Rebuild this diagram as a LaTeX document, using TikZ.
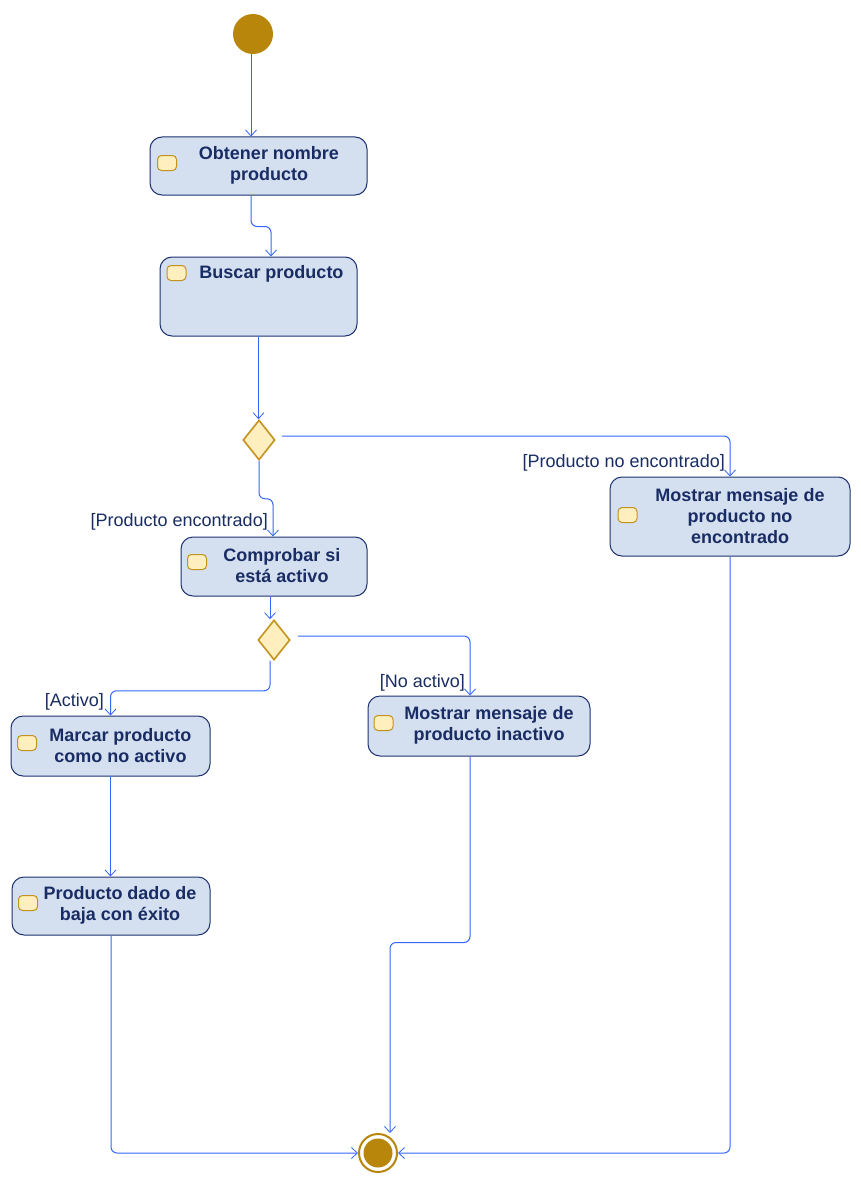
\documentclass[tikz,border=0pt]{standalone}
\usepackage{fontspec}
\setmainfont{Liberation Sans}
\usetikzlibrary{arrows.meta,shapes.geometric}
\definecolor{flowblue}{RGB}{51,102,255}
\definecolor{actfill}{RGB}{212,223,240}
\definecolor{actline}{RGB}{30,50,110}
\definecolor{inktext}{RGB}{25,45,100}
\definecolor{gold}{RGB}{184,134,11}
\definecolor{cream}{RGB}{255,239,190}
\definecolor{icongold}{RGB}{196,146,30}

\begin{document}
\begin{tikzpicture}[x=1pt,y=-1pt,
  act/.style={draw=actline, fill=actfill, line width=1pt, rounded corners=12pt, inner sep=0pt},
  acttext/.style={text=inktext, font=\fontsize{18}{21}\selectfont\bfseries, align=center, inner sep=0pt, yshift=-2pt},
  icon/.style={draw=icongold, fill=cream, line width=1pt, rounded corners=4pt, minimum width=19pt, minimum height=15pt, inner sep=0pt},
  decision/.style={diamond, draw=icongold, fill=cream, line width=1.6pt, minimum width=32pt, minimum height=40pt, inner sep=0pt},
  guard/.style={text=inktext, font=\fontsize{18}{21}\selectfont, inner sep=0pt, anchor=east, yshift=-2pt},
  flow/.style={draw=flowblue, line width=1pt, rounded corners=6pt, -{Straight Barb[length=6pt,width=11pt,line width=0.8pt]}},
]
\useasboundingbox[fill=white] (0,0) rectangle (861,1188);

% start and end
\node[circle, fill=gold, minimum size=40pt, inner sep=0pt] (s) at (253,34) {};
\node[circle, draw=gold, line width=2pt, fill=white, minimum size=38pt, inner sep=0pt] (e) at (378,1153) {};
\node[circle, fill=gold, minimum size=29pt, inner sep=0pt] (ei) at (e.center) {};

% actions
\node[act, minimum width=217pt, minimum height=58pt] (b1) at (258.5,166) {};
\node[acttext] (b1t) at (269,163.5) {Obtener nombre\\producto};
\node[icon] (b1i) at (167,163) {};

\node[act, minimum width=197pt, minimum height=79pt] (b2) at (258.5,296.5) {};
\node[acttext] (b2t) at (271.5,272) {Buscar producto};
\node[icon] (b2i) at (176.5,273) {};

\node[act, minimum width=240pt, minimum height=79pt] (b3) at (730,516.5) {};
\node[acttext] (b3t) at (740,514) {Mostrar mensaje de\\producto no\\encontrado};
\node[icon] (b3i) at (627.5,515) {};

\node[act, minimum width=186pt, minimum height=59pt] (b4) at (274,566.5) {};
\node[acttext] (b4t) at (282,563.5) {Comprobar si\\está activo};
\node[icon] (b4i) at (197,562) {};

\node[act, minimum width=199pt, minimum height=60pt] (b5) at (110.5,746) {};
\node[acttext] (b5t) at (120.5,743.5) {Marcar producto\\como no activo};
\node[icon] (b5i) at (27,743) {};

\node[act, minimum width=222pt, minimum height=60pt] (b6) at (479,726) {};
\node[acttext] (b6t) at (489,723.5) {Mostrar mensaje de\\producto inactivo};
\node[icon] (b6i) at (383.5,723) {};

\node[act, minimum width=198pt, minimum height=58pt] (b7) at (111,906) {};
\node[acttext] (b7t) at (120,903.5) {Producto dado de\\baja con éxito};
\node[icon] (b7i) at (28,903) {};

% decisions
\node[decision] (d1) at (259,440) {};
\node[decision] (d2) at (274,640) {};

% guards
\node[guard] (g1) at (725,461) {[Producto no encontrado]};
\node[guard] (g2) at (268,520) {[Producto encontrado]};
\node[guard] (g3) at (104,700) {[Activo]};
\node[guard] (g4) at (465,681) {[No activo]};

% flows
\draw[flow] ([xshift=-2pt]s.south) -- ([xshift=-2pt]s.south |- b1.north);
\draw[flow] ([xshift=-7.5pt]b1.south) -- ++(0,31) -| ([xshift=12.5pt]b2.north);
\draw[flow] (b2.south) -- (b2.south |- d1.north);
\draw[flow] ([xshift=6pt,yshift=4pt]d1.east) -| (b3.north);
\draw[flow] (d1.south) -- ++(0,38) -| ([xshift=-1pt]b4.north);
\draw[flow] ([xshift=-4pt]b4.south) -- ([xshift=-4pt]d2.north);
\draw[flow] ([xshift=-4pt]d2.south) -- ++(0,30) -| (b5.north);
\draw[flow] ([xshift=7pt,yshift=4pt]d2.east) -| ([xshift=-9pt]b6.north);
\draw[flow] (b5.south) -- (b5.south |- b7.north);
\draw[flow] (b7.south) |- (e.west);
\draw[flow] ([xshift=-9pt]b6.south) -- ++(0,186) -| ([xshift=12pt]e.north);
\draw[flow] (b3.south) |- (e.east);
\end{tikzpicture}
\end{document}
